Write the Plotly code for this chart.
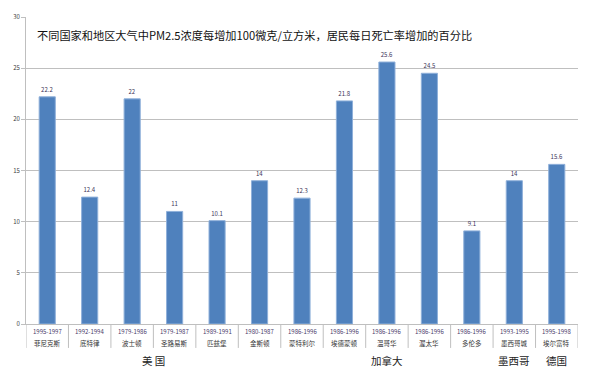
import plotly.graph_objects as go

periods = ["1995-1997", "1992-1994", "1979-1986", "1979-1987", "1989-1991", "1980-1987",
           "1986-1996", "1986-1996", "1986-1996", "1986-1996", "1986-1996", "1993-1995", "1995-1998"]
cities = ["菲尼克斯", "底特律", "波士顿", "圣路易斯", "匹兹堡", "金斯顿",
          "蒙特利尔", "埃德蒙顿", "温哥华", "渥太华", "多伦多", "墨西哥城", "埃尔富特"]
values = [22.2, 12.4, 22, 11, 10.1, 14, 12.3, 21.8, 25.6, 24.5, 9.1, 14, 15.6]
value_labels = ["22.2", "12.4", "22", "11", "10.1", "14", "12.3", "21.8", "25.6", "24.5", "9.1", "14", "15.6"]
groups = ["美 国", "加拿大", "墨西哥", "德国"]
group_centers = [2.5, 8, 11, 12]
y_ticks = [0, 5, 10, 15, 20, 25, 30]
title = "不同国家和地区大气中PM2.5浓度每增加100微克/立方米，居民每日死亡率增加的百分比"

FONT = "Noto Sans CJK SC, Liberation Sans, sans-serif"
xs = list(range(len(values)))

fig = go.Figure()
fig.add_trace(go.Bar(
    x=xs, y=values, width=0.38,
    marker=dict(color="#4F81BD", line=dict(color="#8FB0DA", width=1)),
    text=value_labels, textposition="outside", cliponaxis=False,
    textfont=dict(size=6, color="#3b3358", family=FONT),
    hoverinfo="skip",
))

annotations = [dict(text=title, xref="paper", yref="paper", x=0.016, y=0.942,
                    xanchor="left", yanchor="middle", showarrow=False,
                    font=dict(size=11.2, color="#111111", family=FONT))]
for i in xs:
    annotations.append(dict(text=periods[i], x=i, xref="x", y=-0.026, yref="paper",
                            xanchor="center", yanchor="middle", showarrow=False,
                            font=dict(size=6, color="#4a3a6a", family=FONT)))
    annotations.append(dict(text=cities[i], x=i, xref="x", y=-0.061, yref="paper",
                            xanchor="center", yanchor="middle", showarrow=False,
                            font=dict(size=6.5, color="#333333", family=FONT)))
for g, c in zip(groups, group_centers):
    annotations.append(dict(text=g, x=c, xref="x", y=-0.119, yref="paper",
                            xanchor="center", yanchor="middle", showarrow=False,
                            font=dict(size=10.5, color="#222222", family=FONT)))

shapes = []
for k in range(len(values) + 1):
    shapes.append(dict(type="line", xref="x", yref="paper", x0=k - 0.5, x1=k - 0.5,
                       y0=0, y1=-0.078, line=dict(color="#BFBFBF", width=1)))

fig.update_layout(
    width=600, height=383,
    margin=dict(l=26, r=22, t=14, b=59),
    paper_bgcolor="white", plot_bgcolor="white",
    showlegend=False,
    font=dict(family=FONT),
    annotations=annotations, shapes=shapes,
    xaxis=dict(range=[-0.5, 12.5], showticklabels=False, showgrid=False, zeroline=False,
               showline=True, linecolor="#BFBFBF", linewidth=1, ticks=""),
    yaxis=dict(range=[0, 30], tickvals=y_ticks, showgrid=True, gridcolor="#BFBFBF",
               gridwidth=1, zeroline=False, showline=True, linecolor="#BFBFBF", linewidth=1,
               ticks="outside", ticklen=4, tickcolor="#BFBFBF",
               tickfont=dict(size=6, color="#404040", family=FONT)),
    bargap=0.62,
)

fig.write_html("out.html", config={"displayModeBar": False},
               post_script="document.body.style.margin='0';document.body.style.overflow='hidden';")
